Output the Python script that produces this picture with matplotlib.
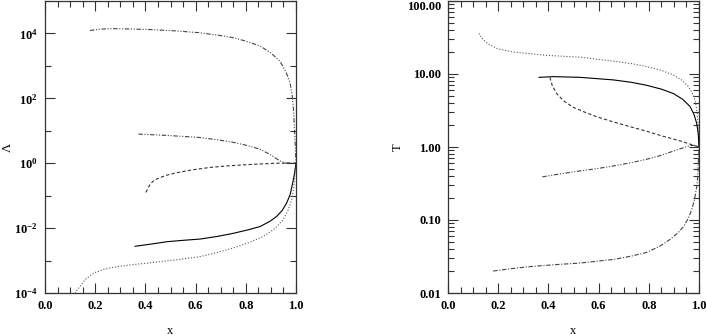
import numpy as np
import matplotlib
matplotlib.use('Agg')
import matplotlib.pyplot as plt
from matplotlib.ticker import FixedLocator, FuncFormatter, LogLocator, MultipleLocator

# Left panel: Lambda vs x
lam_top_x = [0.179, 0.22, 0.27, 0.418, 0.52, 0.617, 0.7, 0.75, 0.8, 0.857, 0.9, 0.936,
             0.96, 0.976, 0.985, 0.99, 0.996, 1.0]
lam_top_y = [1.23e4, 1.36e4, 1.41e4, 1.32e4, 1.2e4, 1.05e4, 8.6e3, 7.4e3, 5.8e3, 4.1e3,
             2.5e3, 1.4e3, 650, 310, 120, 45, 5.4, 1.0]
lam_mid_x = [0.372, 0.485, 0.618, 0.7, 0.75, 0.8, 0.857, 0.9, 0.936, 0.96, 0.99, 1.0]
lam_mid_y = [7.9, 7.2, 6.2, 5.1, 4.4, 3.6, 2.7, 1.8, 1.17, 1.02, 1.0, 1.0]
lam_dash_x = [0.402, 0.41, 0.42, 0.435, 0.458, 0.49, 0.525, 0.59, 0.657, 0.72, 0.79, 0.86, 0.923, 1.0]
lam_dash_y = [0.126, 0.17, 0.23, 0.3, 0.36, 0.44, 0.51, 0.63, 0.74, 0.82, 0.89, 0.95, 1.0, 1.0]
lam_solid_x = [0.359, 0.42, 0.485, 0.55, 0.618, 0.69, 0.75, 0.81, 0.857, 0.895, 0.923, 0.945,
               0.963, 0.977, 0.987, 0.994, 1.0]
lam_solid_y = [0.00275, 0.0032, 0.0038, 0.0042, 0.0046, 0.0056, 0.0069, 0.0089, 0.0112, 0.016,
               0.023, 0.035, 0.060, 0.11, 0.25, 0.48, 1.0]
lam_dot_x = [0.115, 0.125, 0.139, 0.16, 0.193, 0.235, 0.286, 0.35, 0.418, 0.52, 0.618, 0.69, 0.75,
             0.81, 0.869, 0.915, 0.948, 0.968, 0.983, 0.991, 0.996, 1.0]
lam_dot_y = [8e-5, 1.15e-4, 1.6e-4, 2.6e-4, 4.1e-4, 5.4e-4, 6.5e-4, 7.5e-4, 8.5e-4, 1.05e-3,
             1.32e-3, 1.8e-3, 2.45e-3, 3.5e-3, 5.5e-3, 9.5e-3, 0.0178, 0.035, 0.074, 0.17, 0.5, 1.0]

# Right panel: T vs x
t_dot_x = [0.123, 0.135, 0.15, 0.167, 0.2, 0.26, 0.393, 0.526, 0.659, 0.73, 0.792, 0.85, 0.898,
           0.93, 0.957, 0.972, 0.984, 0.992, 0.997, 1.0]
t_dot_y = [36, 31, 27.5, 25, 22, 20, 18, 17, 15, 13.9, 12.6, 11.2, 9.7, 8.3, 6.8, 5.6, 4.4, 3.1, 1.9, 1.0]
t_solid_x = [0.363, 0.42, 0.526, 0.659, 0.73, 0.792, 0.85, 0.898, 0.935, 0.964, 0.98, 0.991, 0.997, 1.0]
t_solid_y = [9.0, 9.2, 9.0, 8.3, 7.7, 7.0, 6.2, 5.4, 4.5, 3.6, 2.8, 2.1, 1.5, 1.0]
t_dash_x = [0.406, 0.415, 0.433, 0.46, 0.499, 0.545, 0.592, 0.66, 0.725, 0.79, 0.858, 0.93, 0.991, 1.0]
t_dash_y = [9.0, 7.0, 5.4, 4.3, 3.5, 3.0, 2.6, 2.2, 1.9, 1.65, 1.4, 1.2, 1.02, 1.0]
t_ddd_x = [0.376, 0.45, 0.526, 0.6, 0.659, 0.73, 0.792, 0.85, 0.898, 0.935, 0.964, 0.985, 1.0]
t_ddd_y = [0.39, 0.43, 0.47, 0.51, 0.55, 0.61, 0.68, 0.77, 0.88, 0.97, 1.05, 1.05, 1.0]
t_dd_x = [0.18, 0.25, 0.327, 0.43, 0.526, 0.659, 0.73, 0.792, 0.845, 0.884, 0.915, 0.938, 0.957,
          0.971, 0.982, 0.991, 0.995, 0.997, 1.0]
t_dd_y = [0.020, 0.0215, 0.023, 0.0245, 0.0257, 0.0288, 0.032, 0.036, 0.044, 0.054, 0.066, 0.081,
          0.105, 0.138, 0.19, 0.29, 0.40, 0.55, 1.0]

t_ticks = [0.01, 0.1, 1.0, 10.0, 100.0]

plt.rcParams['font.family'] = ['Liberation Serif', 'DejaVu Serif']
plt.rcParams['font.weight'] = 'bold'
plt.rcParams['mathtext.fontset'] = 'custom'
plt.rcParams['mathtext.rm'] = 'Liberation Serif'
plt.rcParams['mathtext.bf'] = 'Liberation Serif:bold'

dashdotdot = (0, (4, 1.5, 1, 1.5, 1, 1.5))
dashdot = (0, (4, 1.5, 1, 1.5))
lw = 0.8

fig = plt.figure(figsize=(7.06, 3.36), dpi=100)
ax1 = fig.add_axes([45 / 706, 43 / 336, 251 / 706, 292 / 336])
ax2 = fig.add_axes([448 / 706, 43 / 336, 251 / 706, 292 / 336])

ax1.plot(lam_top_x, lam_top_y, color='#444444', lw=lw, ls=dashdotdot)
ax1.plot(lam_mid_x, lam_mid_y, color='#444444', lw=lw, ls=dashdotdot)
ax1.plot(lam_dash_x, lam_dash_y, color='#333333', lw=lw, ls=(0, (3, 2)))
ax1.plot(lam_solid_x, lam_solid_y, color='black', lw=lw)
ax1.plot(lam_dot_x, lam_dot_y, color='#555555', lw=lw, ls=':')

ax2.plot(t_dot_x, t_dot_y, color='#555555', lw=lw, ls=':')
ax2.plot(t_solid_x, t_solid_y, color='black', lw=lw)
ax2.plot(t_dash_x, t_dash_y, color='#333333', lw=lw, ls=(0, (3, 2)))
ax2.plot(t_ddd_x, t_ddd_y, color='#444444', lw=lw, ls=dashdotdot)
ax2.plot(t_dd_x, t_dd_y, color='#444444', lw=lw, ls=dashdot)

for ax in (ax1, ax2):
    ax.set_yscale('log')
    ax.set_xlim(0, 1)
    ax.xaxis.set_major_locator(MultipleLocator(0.2))
    ax.xaxis.set_minor_locator(MultipleLocator(0.05))
    ax.xaxis.set_major_formatter(FuncFormatter(lambda v, p: '%.1f' % v))
    ax.tick_params(which='both', direction='in', top=True, right=True,
                   width=0.8, color='#333333', labelsize=9, pad=5)
    ax.tick_params(which='major', length=7)
    ax.tick_params(which='minor', length=4)
    for s in ax.spines.values():
        s.set_linewidth(0.9)
        s.set_color('#333333')
    ax.set_xlabel('x', fontsize=9)
    ax.xaxis.set_label_coords(0.5, -0.11)

ax1.set_ylim(1e-4, 1e5)
ax1.yaxis.set_major_locator(FixedLocator([1e-4, 1e-2, 1e0, 1e2, 1e4]))
ax1.yaxis.set_minor_locator(FixedLocator([1e-3, 1e-1, 1e1, 1e3, 1e5]))
ax1.yaxis.set_major_formatter(FuncFormatter(lambda v, p: r'$\mathbf{10^{%d}}$' % round(np.log10(v))))
ax1.yaxis.set_minor_formatter(FuncFormatter(lambda v, p: ''))
ax1.set_ylabel('Λ', fontsize=9, fontweight='normal')
ax1.yaxis.set_label_coords(-0.125, 0.5)

ax2.set_ylim(0.01, 100)
ax2.yaxis.set_major_locator(FixedLocator(t_ticks))
ax2.yaxis.set_minor_locator(LogLocator(base=10, subs=np.arange(2, 10)))
ax2.yaxis.set_major_formatter(FuncFormatter(lambda v, p: '%.2f' % v))
ax2.yaxis.set_minor_formatter(FuncFormatter(lambda v, p: ''))
ax2.set_ylabel('T', fontsize=9)
ax2.yaxis.set_label_coords(-0.175, 0.5)

# keep the top label inside the figure
ax2.yaxis.get_major_ticks(numticks=len(t_ticks))[-1].label1.set_va('top')

plt.savefig('out.png', dpi=100)
